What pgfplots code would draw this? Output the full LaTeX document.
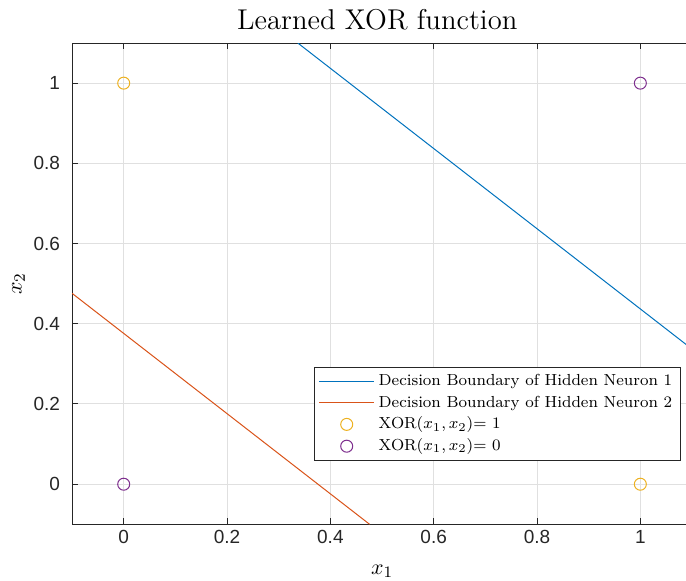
\documentclass[border=0pt]{standalone}
\usepackage{pgfplots}
\pgfplotsset{compat=1.18}
\usepackage{fontspec}
\usetikzlibrary{calc}
\newfontfamily\ticksf{Liberation Sans}

\definecolor{mblue}{rgb}{0,0.447,0.741}
\definecolor{morange}{rgb}{0.85,0.325,0.098}
\definecolor{myellow}{rgb}{0.929,0.694,0.125}
\definecolor{mpurple}{rgb}{0.494,0.184,0.556}
\definecolor{maxis}{rgb}{0.15,0.15,0.15}
\definecolor{mgrid}{rgb}{0.88,0.88,0.88}

\begin{document}
\begin{tikzpicture}
\begin{axis}[
  scale only axis,
  width=309.8pt, height=240.5pt,
  xmin=-0.1, xmax=1.1,
  ymin=-0.1, ymax=1.1,
  xtick={0,0.2,...,1.0},
  ytick={0,0.2,...,1.0},
  tick align=inside,
  major tick length=3pt,
  tick style={maxis, line width=0.5pt},
  axis line style={maxis, line width=0.5pt},
  grid=major,
  major grid style={mgrid, line width=0.5pt},
  /pgf/number format/assume math mode=true,
  xticklabel style={font=\ticksf\fontsize{9.5}{11}\selectfont, text=maxis, yshift=0.5pt},
  yticklabel style={font=\ticksf\fontsize{9.5}{11}\selectfont, text=maxis, xshift=-2.5pt},
  title={Learned XOR function},
  title style={font=\fontsize{14.3}{17}\selectfont, at={(axis description cs:0.4923,1)}, anchor=base, yshift=1pt},
  xlabel={$x_1$},
  ylabel={$x_2$},
  xlabel style={font=\fontsize{11}{13}\selectfont, at={(axis description cs:0.5,0)}, anchor=base, yshift=-25pt},
  ylabel style={font=\fontsize{11}{13}\selectfont, at={(axis description cs:-0.0646,0.5)}, anchor=south},
  legend cell align=left,
  legend style={
    at={(axis description cs:0.3906,0.3264)}, anchor=north west,
    draw=maxis, line width=0.5pt, fill=white,
    font=\fontsize{8}{9.6}\selectfont,
    inner xsep=2pt, inner ysep=1.5pt,
    row sep=-0.6pt,
    /tikz/every even column/.append style={column sep=0pt},
  },
]
  % hidden neuron 1: x1 + x2 = 1.437
  \addplot[mblue, line width=0.5pt,
    legend image code/.code={\draw[draw=mblue, line width=0.5pt] (0pt,0pt) -- (27.5pt,0pt);}]
    coordinates {(0.337,1.1) (1.1,0.337)};
  \addlegendentry{Decision Boundary of Hidden Neuron 1}
  % hidden neuron 2: x1 + x2 = 0.376
  \addplot[morange, line width=0.5pt,
    legend image code/.code={\draw[draw=morange, line width=0.5pt] (0pt,0pt) -- (27.5pt,0pt);}]
    coordinates {(-0.1,0.476) (0.476,-0.1)};
  \addlegendentry{Decision Boundary of Hidden Neuron 2}
  % inputs with XOR = 1
  \addplot[only marks, mark=o, mark size=3pt, myellow, line width=0.5pt,
    legend image code/.code={\draw[draw=myellow, line width=0.5pt] (13.75pt,0pt) circle (3pt); \path (27.5pt,0pt);}]
    coordinates {(0,1) (1,0)};
  \addlegendentry{XOR$(x_1,x_2)$= 1}
  % inputs with XOR = 0
  \addplot[only marks, mark=o, mark size=3pt, mpurple, line width=0.5pt,
    legend image code/.code={\draw[draw=mpurple, line width=0.5pt] (13.75pt,0pt) circle (3pt); \path (27.5pt,0pt);}]
    coordinates {(0,0) (1,1)};
  \addlegendentry{XOR$(x_1,x_2)$= 0}

  \coordinate (SW) at (rel axis cs:0,0);
  \coordinate (NE) at (rel axis cs:1,1);
\end{axis}
\pgfresetboundingbox
\useasboundingbox ($(SW)+(-36pt,-28pt)$) rectangle ($(NE)+(-3pt,21.5pt)$);
\end{tikzpicture}
\end{document}
